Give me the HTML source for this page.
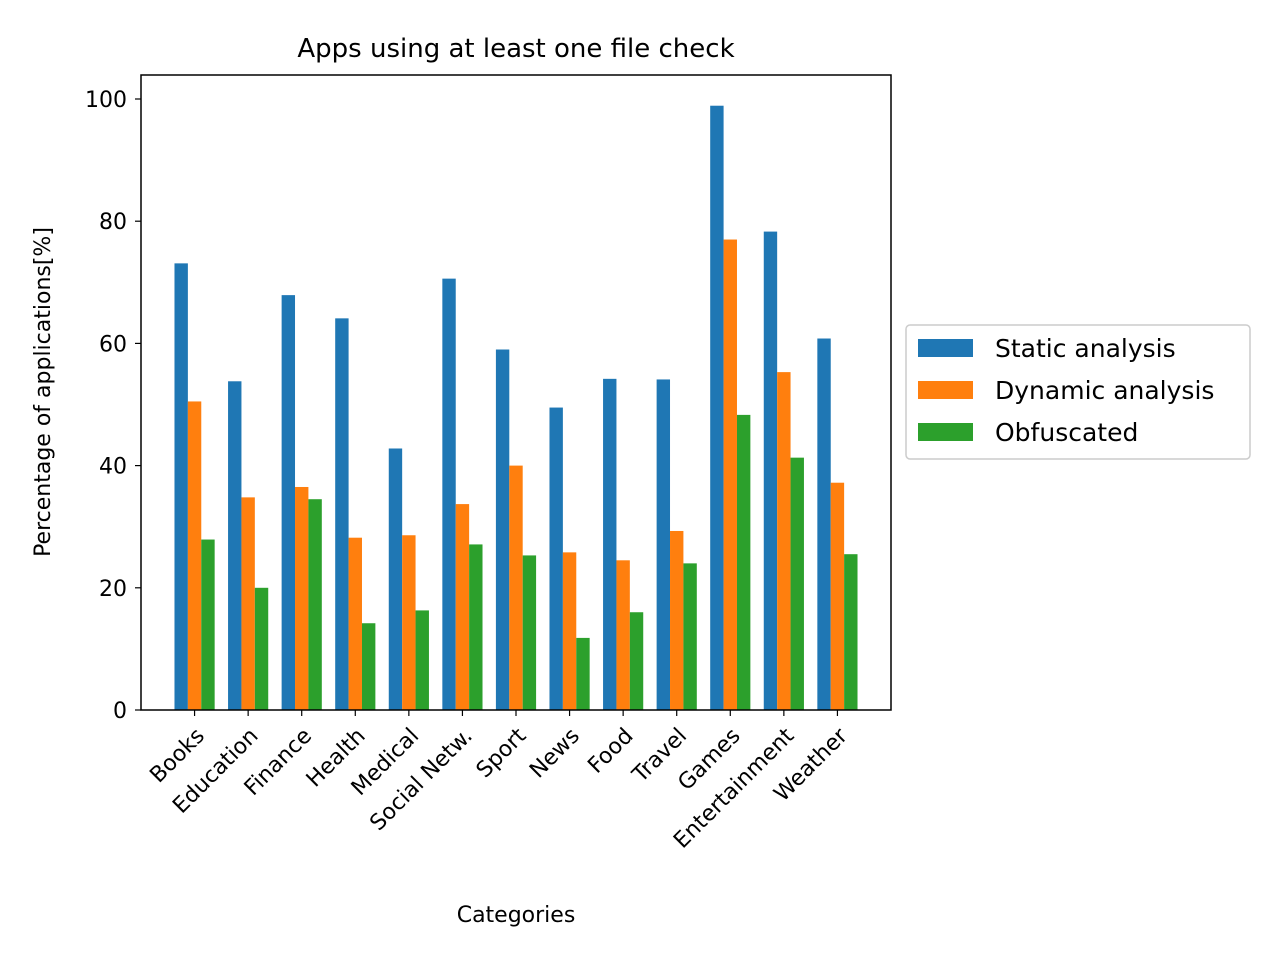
<!DOCTYPE html>
<html><head><meta charset="utf-8"><style>body{margin:0;background:#fff}svg{font-family:"DejaVu Sans","Liberation Sans",sans-serif}</style></head>
<body>
<svg id="chart" width="1280" height="960" viewBox="0 0 1280 960"></svg>
<script>
const categories=["Books","Education","Finance","Health","Medical","Social Netw.","Sport","News","Food","Travel","Games","Entertainment","Weather"];
const staticVals=[73.1,53.8,67.9,64.1,42.8,70.6,59.0,49.5,54.2,54.1,98.9,78.3,60.8];
const dynamicVals=[50.5,34.8,36.5,28.2,28.6,33.7,40.0,25.8,24.5,29.3,77.0,55.3,37.2];
const obfVals=[27.9,20.0,34.5,14.2,16.3,27.1,25.3,11.8,16.0,24.0,48.3,41.3,25.5];
const yTicks=[0,20,40,60,80,100];
const seriesNames=["Static analysis","Dynamic analysis","Obfuscated"];
const colors=["#1f77b4","#ff7f0e","#2ca02c"];
const svg=document.getElementById('chart');const NS="http://www.w3.org/2000/svg";
const L=141,R=891,T=75,B=710;
const xs=i=>L+(i+1)*(R-L)/14;
const ys=v=>710-v*6.11;
const bw=(R-L)/14*0.25;
function mk(t,a,txt){const e=document.createElementNS(NS,t);for(const k in a)e.setAttribute(k,a[k]);if(txt!==undefined)e.textContent=txt;svg.appendChild(e);return e;}
[staticVals,dynamicVals,obfVals].forEach((arr,s)=>{arr.forEach((v,i)=>{
const r=mk('rect',{x:xs(i)+(s-1)*bw-bw/2,y:ys(v),width:bw,height:ys(0)-ys(v),fill:colors[s]});

});});
const fr=mk('rect',{x:L,y:T,width:R-L,height:B-T,fill:'none',stroke:'#000','stroke-width':1.5});


yTicks.forEach(v=>{mk('line',{x1:L-6,x2:L,y1:ys(v),y2:ys(v),stroke:'#000','stroke-width':1.2});
const t=mk('text',{x:L-14,y:ys(v)+8,'text-anchor':'end','font-size':22},v);

});
categories.forEach((c,i)=>{const x=xs(i);mk('line',{x1:x,x2:x,y1:B,y2:B+6,stroke:'#000','stroke-width':1.2});
const t=mk('text',{x:x+4,y:B+30,'text-anchor':'end','font-size':22,transform:`rotate(-45 ${x+4} ${B+20})`},c);

});
let t=mk('text',{x:516,y:57,'text-anchor':'middle','font-size':26},'Apps using at least one file check');


t=mk('text',{x:516,y:922,'text-anchor':'middle','font-size':22},'Categories');


t=mk('text',{x:50,y:392,'text-anchor':'middle','font-size':22,transform:'rotate(-90 50 392)'},'Percentage of applications[%]');


const lg=mk('rect',{x:906,y:325,width:344,height:134,rx:4,fill:'#fff',stroke:'#ccc','stroke-width':1.5});


seriesNames.forEach((n,s)=>{const y=348+s*42;mk('rect',{x:918,y:y-9,width:55,height:18,fill:colors[s]});
const e=mk('text',{x:995,y:y+9,'font-size':25},n);

});
</script>
</body></html>
